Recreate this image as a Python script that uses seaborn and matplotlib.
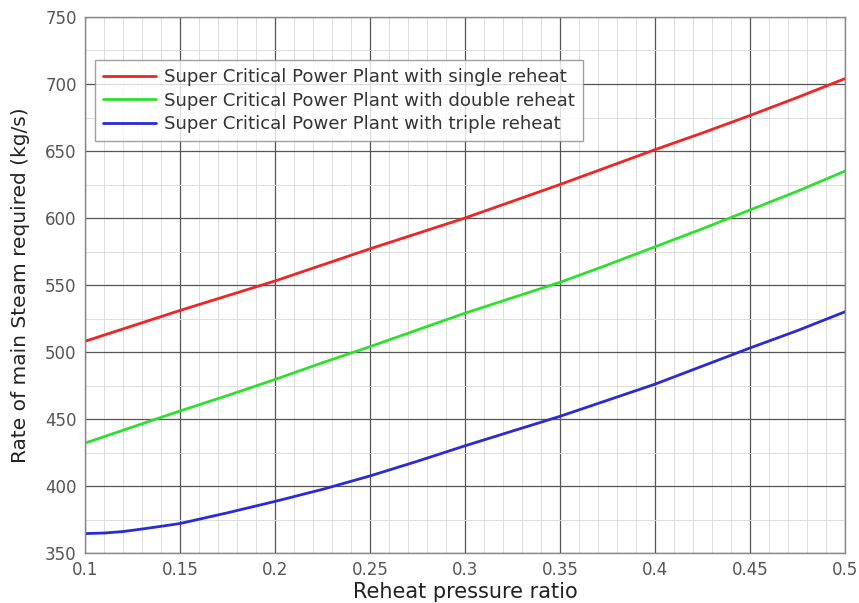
import matplotlib
matplotlib.use("Agg")
import matplotlib.pyplot as plt
import seaborn as sns
import pandas as pd
from matplotlib.ticker import MultipleLocator, FuncFormatter

# ---- data ----
reheat_ratio = [0.100, 0.125, 0.150, 0.175, 0.200, 0.225, 0.250, 0.275, 0.300,
                0.325, 0.350, 0.375, 0.400, 0.425, 0.450, 0.475, 0.500]
single_reheat = [508, 519.5, 531, 542, 553, 565, 577, 588.5, 600,
                 612.5, 625, 638, 651, 663.5, 676.5, 690, 704]
double_reheat = [432, 444, 456, 467.5, 479.5, 492, 504, 516.5, 529,
                 540.5, 552, 565, 578.5, 592, 606, 620, 635]
triple_ratio = [0.100, 0.110, 0.120, 0.130, 0.140, 0.150, 0.175, 0.200, 0.225,
                0.250, 0.275, 0.300, 0.325, 0.350, 0.375, 0.400, 0.425,
                0.450, 0.475, 0.500]
triple_reheat = [364.5, 364.9, 366.0, 367.9, 369.9, 372, 380, 388.5, 397.5,
                 407.5, 418.5, 430, 441, 452, 464, 476, 489.5,
                 503, 516, 530]
series_names = ["Super Critical Power Plant with single reheat",
                "Super Critical Power Plant with double reheat",
                "Super Critical Power Plant with triple reheat"]
x_label = "Reheat pressure ratio"
y_label = "Rate of main Steam required (kg/s)"

df = pd.concat([
    pd.DataFrame({"x": reheat_ratio, "y": single_reheat, "series": series_names[0]}),
    pd.DataFrame({"x": reheat_ratio, "y": double_reheat, "series": series_names[1]}),
    pd.DataFrame({"x": triple_ratio, "y": triple_reheat, "series": series_names[2]}),
], ignore_index=True)

sns.set_style("white")
plt.rcParams["font.family"] = ["DejaVu Sans"]

fig = plt.figure(figsize=(8.59, 6.03), dpi=100)
ax = fig.add_axes([85/859, 50/603, 760/859, 536/603])

palette = {series_names[0]: "#f02424", series_names[1]: "#2ee02e", series_names[2]: "#2a2ad8"}
sns.lineplot(data=df, x="x", y="y", hue="series", palette=palette,
             linewidth=2.0, ax=ax, legend=True, sort=True)

ax.set_xlim(0.1, 0.5)
ax.set_ylim(350, 750)
ax.xaxis.set_major_locator(MultipleLocator(0.05))
ax.xaxis.set_minor_locator(MultipleLocator(0.01))
ax.yaxis.set_major_locator(MultipleLocator(50))
ax.yaxis.set_minor_locator(MultipleLocator(25))
ax.xaxis.set_major_formatter(FuncFormatter(lambda v, p: f"{v:g}"))
ax.yaxis.set_major_formatter(FuncFormatter(lambda v, p: f"{v:g}"))

ax.grid(True, which="major", color="#555555", linewidth=0.9)
ax.grid(True, which="minor", color="#dcdcdc", linewidth=0.7)
ax.set_axisbelow(True)

for s in ax.spines.values():
    s.set_color("#888888")
    s.set_linewidth(1.0)

ax.tick_params(axis="both", which="major", labelsize=12, labelcolor="#555555",
               length=4, direction="out", color="#888888", pad=2)
ax.tick_params(axis="both", which="minor", length=0)

ax.set_xlabel(x_label, fontsize=15, color="#222222", labelpad=2)
ax.set_ylabel(y_label, fontsize=14.5, color="#222222")
ax.yaxis.set_label_coords(-0.073, 0.5)

leg = ax.legend(loc="upper left", bbox_to_anchor=(0.013, 0.92), borderaxespad=0,
                fontsize=13.1, frameon=True, fancybox=False, handlelength=2.9,
                labelspacing=0.3, borderpad=0.45, handletextpad=0.45)
leg.get_frame().set_edgecolor("#888888")
leg.get_frame().set_linewidth(1.0)
for t in leg.get_texts():
    t.set_color("#333333")
for line in leg.get_lines():
    line.set_linewidth(2.0)

fig.savefig("out.png", dpi=100)
